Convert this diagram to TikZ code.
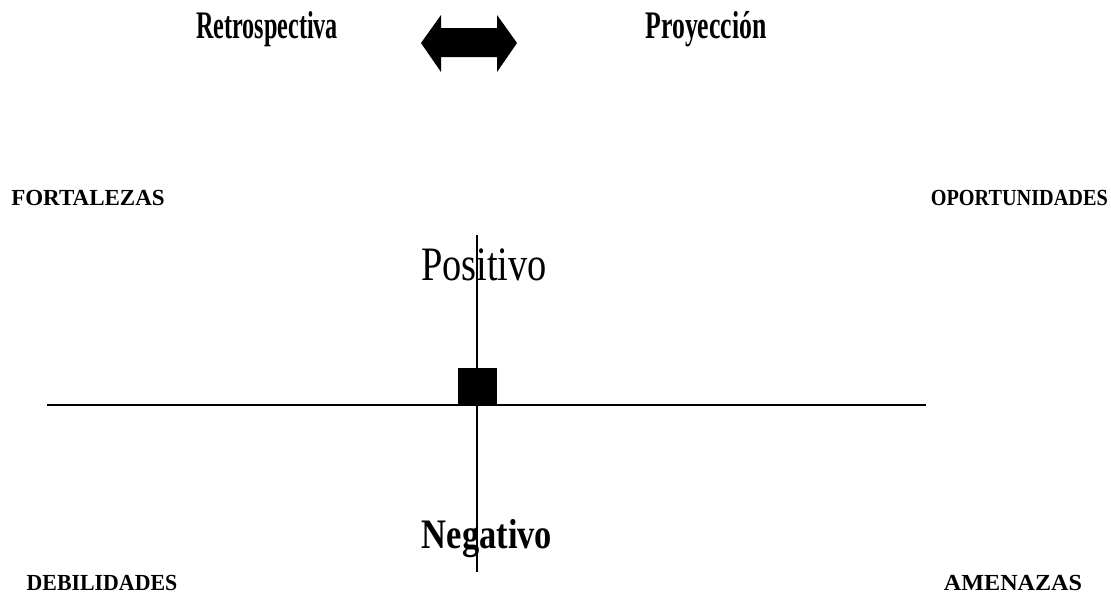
\documentclass[tikz,border=0pt]{standalone}
\usepackage{fontspec}
\setmainfont{Liberation Serif}
\begin{document}
\begin{tikzpicture}[x=1pt,y=-1pt,
  corner/.style={font=\fontsize{23}{23}\selectfont\bfseries, inner sep=0pt, anchor=base},
  wordart/.style={font=\fontsize{39}{39}\selectfont\bfseries, inner sep=0pt, anchor=base},
  axis/.style={draw=black, line width=1.4pt},
  centre/.style={fill=black, minimum width=39pt, minimum height=38pt, inner sep=0pt}]
\useasboundingbox (0,0) rectangle (1111,603);
% top titles
\node[wordart] (retro) at (267,38) {\scalebox{0.62}[1]{Retrospectiva}};
\node[wordart] (proy) at (706,38) {\scalebox{0.66}[1]{Proyecci\'on}};
% double arrow shape
\fill[black] (421,43) -- (441,15) -- (441,28) -- (497,28) -- (497,15) -- (517,43)
  -- (497,72) -- (497,57) -- (441,57) -- (441,72) -- cycle;
% corner labels
\node[corner] (fort) at (88,205) {FORTALEZAS};
\node[corner, anchor=base east] (opor) at (1108,205) {\scalebox{0.88}[1]{OPORTUNIDADES}};
\node[corner] (debi) at (102,590) {\scalebox{0.95}[1]{DEBILIDADES}};
\node[corner] (amen) at (1013,590) {\scalebox{1.05}[1]{AMENAZAS}};
% axes
\coordinate (top) at (477,235);
\coordinate (bot) at (477,572);
\coordinate (left) at (47,405);
\coordinate (right) at (926,405);
\draw[axis] (left) -- (right);
\draw[axis] (top) -- (bot);
% labels on axis
\node[inner sep=0pt, anchor=base, font=\fontsize{48}{48}\selectfont] (pos) at (484,280) {\scalebox{0.8}[1]{Positivo}};
\node[inner sep=0pt, anchor=base, font=\fontsize{42}{42}\selectfont\bfseries] (neg) at (487,548) {\scalebox{0.82}[1]{Negativo}};
% centre square
\node[centre] (sq) at (477.5,387) {};
\end{tikzpicture}
\end{document}
